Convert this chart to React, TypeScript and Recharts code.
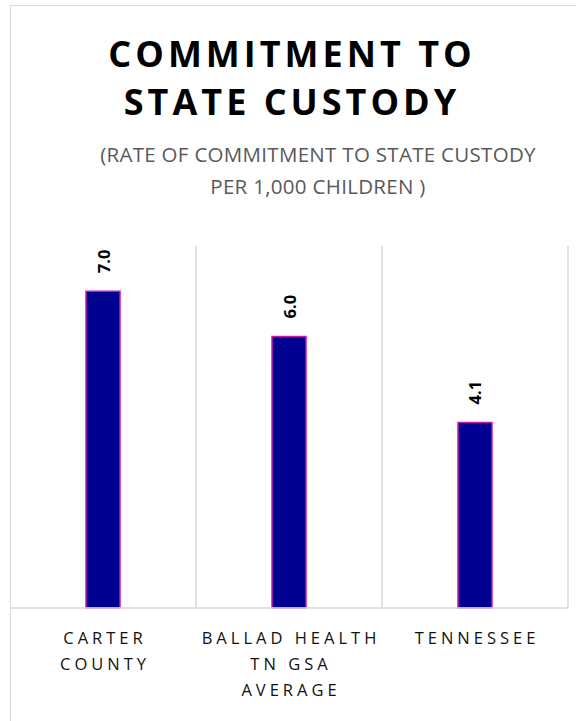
import { BarChart, Bar, XAxis, YAxis, CartesianGrid, LabelList } from 'recharts'

const categories = ['CARTER\nCOUNTY', 'BALLAD HEALTH\nTN GSA\nAVERAGE', 'TENNESSEE']
const rates = [7.0, 6.0, 4.1]
const yTicks = [0, 2, 4, 6, 8]

const data = categories.map((name, i) => ({ name, rate: rates[i] }))

const FONT = '"Open Sans", "Liberation Sans", sans-serif'

function CategoryTick({ x, y, payload }: any): JSX.Element {
  const lines = String(payload.value).split('\n')
  return (
    <g>
      {lines.map((line, i) => (
        <text
          key={i}
          x={x + 2}
          y={y + 21 + i * 26}
          textAnchor="middle"
          dominantBaseline="central"
          fontFamily={FONT}
          fontSize={16.5}
          letterSpacing={4}
          fill="#111"
        >
          {line}
        </text>
      ))}
    </g>
  )
}

function ValueLabel({ x, y, width, value }: any): JSX.Element {
  const cx = x + width / 2
  const cy = y - 18
  return (
    <text
      x={cx}
      y={cy}
      transform={`rotate(-90 ${cx} ${cy})`}
      textAnchor="start"
      dominantBaseline="central"
      fontFamily={FONT}
      fontWeight="bold"
      fontSize={16.5}
      fill="#000"
    >
      {Number(value).toFixed(1)}
    </text>
  )
}

function App(): JSX.Element {
  return (
    <div style={{ position: 'absolute', left: 0, top: 0, width: 576, height: 721, background: '#fff', overflow: 'hidden' }}>
      <div
        style={{
          position: 'absolute',
          left: 10,
          top: 5,
          width: 600,
          height: 760,
          borderLeft: '1.5px solid #d9d9d9',
          borderTop: '1.5px solid #d9d9d9'
        }}
      />
      <div
        style={{
          position: 'absolute',
          left: 0,
          top: 30,
          width: 584,
          textAlign: 'center',
          fontFamily: FONT,
          fontWeight: 'bold',
          fontSize: 36,
          lineHeight: '48px',
          letterSpacing: 4,
          color: '#000'
        }}
      >
        COMMITMENT TO
        <br />
        STATE CUSTODY
      </div>
      <div
        style={{
          position: 'absolute',
          left: 0,
          top: 138,
          width: 636,
          textAlign: 'center',
          fontFamily: FONT,
          fontSize: 20.5,
          lineHeight: '32px',
          letterSpacing: 0.3,
          color: '#595959'
        }}
      >
        (RATE OF COMMITMENT TO STATE CUSTODY
        <br />
        PER 1,000 CHILDREN )
      </div>
      <div style={{ position: 'absolute', left: 0, top: 0 }}>
        <BarChart
          width={576}
          height={721}
          data={data}
          margin={{ top: 246, right: 8, bottom: 83, left: 10 }}
        >
          <CartesianGrid
            horizontal={false}
            stroke="#d9d9d9"
            strokeWidth={1.5}
            verticalCoordinatesGenerator={({ offset }: any) =>
              categories.map((_, i) => offset.left + ((i + 1) * offset.width) / categories.length)
            }
          />
          <XAxis
            dataKey="name"
            axisLine={{ stroke: '#d9d9d9', strokeWidth: 1.5 }}
            tickLine={false}
            interval={0}
            tick={<CategoryTick />}
          />
          <YAxis hide domain={[0, 8]} ticks={yTicks} />
          <Bar
            dataKey="rate"
            fill="#000090"
            stroke="#cc1aa8"
            strokeWidth={1.5}
            barSize={34}
            isAnimationActive={false}
          >
            <LabelList dataKey="rate" content={<ValueLabel />} />
          </Bar>
        </BarChart>
      </div>
    </div>
  )
}

export default App
